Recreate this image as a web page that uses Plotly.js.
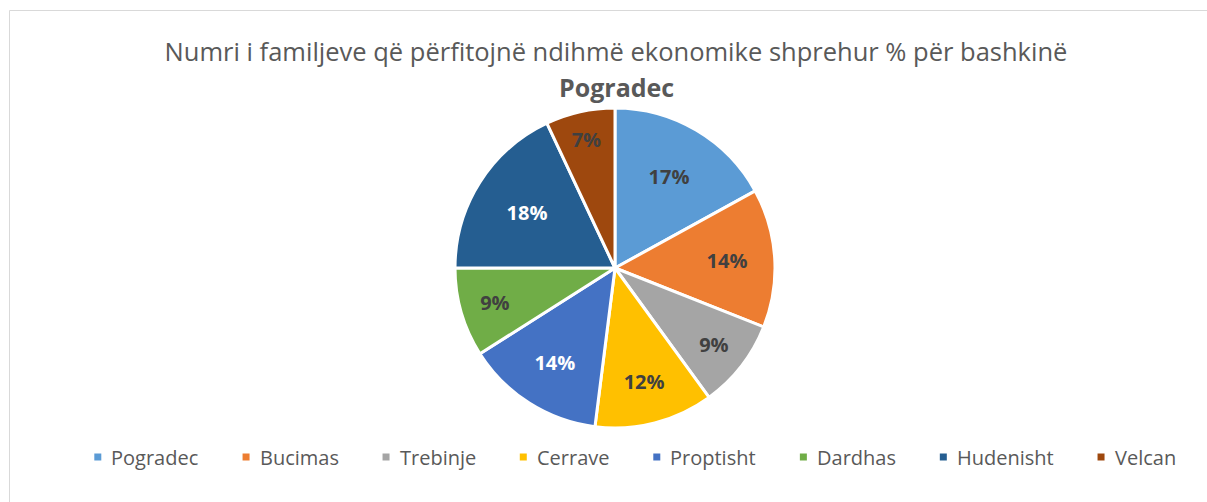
<!DOCTYPE html>
<html>
<head>
<meta charset="utf-8">
<script src="https://cdn.plot.ly/plotly-3.0.1.min.js"></script>
<style>
  html, body { margin: 0; padding: 0; background: #fff; }
  #chart { width: 1207px; height: 502px; }
</style>
</head>
<body>
<div id="chart"></div>
<script>
// Share of families receiving economic aid, by administrative unit of Pogradec
const categories = ['Pogradec', 'Bucimas', 'Trebinje', 'Cerrave', 'Proptisht', 'Dardhas', 'Hudenisht', 'Velcan'];
const shares = [17, 14, 9, 12, 14, 9, 18, 7];
const sliceColors = ['#5B9BD5', '#ED7D31', '#A5A5A5', '#FFC000', '#4472C4', '#70AD47', '#255E91', '#9E480E'];
const labelColors = ['#404040', '#404040', '#404040', '#404040', '#FFFFFF', '#404040', '#FFFFFF', '#404040'];

const titleLine1 = 'Numri i familjeve që përfitojnë ndihmë ekonomike shprehur % për bashkinë';
const titleLine2 = 'Pogradec';

const W = 1207, H = 502;
const FONT = '"Open Sans", Lato, sans-serif';
const textGray = '#595959';

// pie placement (pixels)
const cx = 615, cy = 268, R = 160;

// measure legend text to lay entries out in one centred row
const ctx = document.createElement('canvas').getContext('2d');
const legendSize = 20;
ctx.font = legendSize + 'px "Open Sans"';
const box = 7, boxGap = 8, entryGap = 46, legendY = 457, legendCenter = 634;
const widths = categories.map(c => ctx.measureText(c).width);
const total = widths.reduce((a, w) => a + box + boxGap + w, 0) + entryGap * (categories.length - 1);
let xPos = legendCenter - total / 2;

const shapes = [{
  type: 'rect', xref: 'paper', yref: 'paper',
  x0: 9.5 / W, x1: 1240 / W, y0: -40 / H, y1: 1 - 10.5 / H,
  line: { color: '#D9D9D9', width: 1 }, fillcolor: 'rgba(0,0,0,0)'
}];
const annotations = [{
  text: '<b>' + titleLine2 + '</b>', xref: 'paper', yref: 'paper',
  x: 616 / W, y: 1 - 87 / H, xanchor: 'center', yanchor: 'middle',
  showarrow: false, font: { family: FONT, size: 25, color: textGray }
}];

categories.forEach((c, i) => {
  shapes.push({
    type: 'rect', xref: 'paper', yref: 'paper',
    x0: xPos / W, x1: (xPos + box) / W,
    y0: 1 - (legendY + box / 2) / H, y1: 1 - (legendY - box / 2) / H,
    line: { width: 0 }, fillcolor: sliceColors[i]
  });
  annotations.push({
    text: c, xref: 'paper', yref: 'paper',
    x: (xPos + box + boxGap) / W, y: 1 - legendY / H,
    xanchor: 'left', yanchor: 'middle', showarrow: false,
    font: { family: FONT, size: legendSize, color: textGray }
  });
  xPos += box + boxGap + widths[i] + entryGap;
});

const trace = {
  type: 'pie',
  labels: categories,
  values: shares,
  sort: false,
  direction: 'clockwise',
  rotation: 0,
  marker: { colors: sliceColors, line: { color: '#FFFFFF', width: 3 } },
  texttemplate: '%{value}%',
  textposition: 'inside',
  insidetextorientation: 'horizontal',
  textfont: { family: FONT, size: 20, color: labelColors, weight: 'bold' },
  hoverinfo: 'label+percent',
  showlegend: false,
  domain: { x: [(cx - 180) / W, (cx + 180) / W], y: [1 - (cy + R) / H, 1 - (cy - R) / H] }
};

const layout = {
  width: W, height: H,
  margin: { l: 0, r: 0, t: 0, b: 0 },
  paper_bgcolor: '#FFFFFF',
  title: {
    text: titleLine1, x: 616 / W, xanchor: 'center', y: 1 - 52 / H, yanchor: 'middle',
    font: { family: FONT, size: 25.5, color: textGray }
  },
  showlegend: false,
  shapes: shapes,
  annotations: annotations
};

Plotly.newPlot('chart', [trace], layout, { displayModeBar: false, staticPlot: true });
</script>
</body>
</html>
